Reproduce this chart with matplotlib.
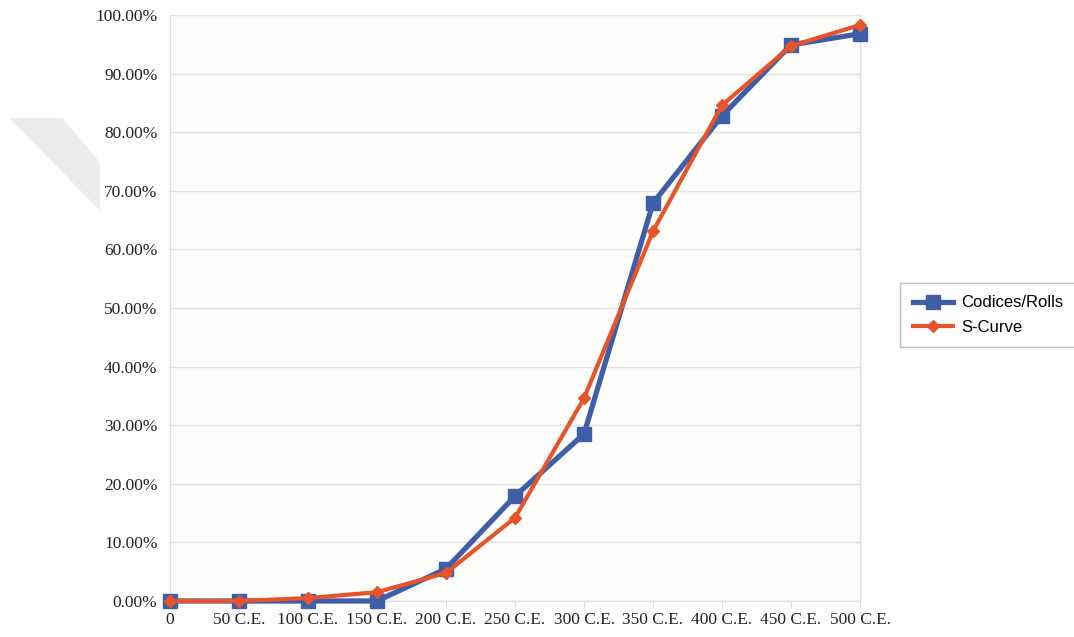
import matplotlib
matplotlib.use("Agg")
import matplotlib.pyplot as plt
from matplotlib.patches import Polygon

categories = ["0", "50 C.E.", "100 C.E.", "150 C.E.", "200 C.E.", "250 C.E.",
              "300 C.E.", "350 C.E.", "400 C.E.", "450 C.E.", "500 C.E."]
years = [0, 50, 100, 150, 200, 250, 300, 350, 400, 450, 500]
codices_rolls = [0.0, 0.0, 0.0, 0.0, 5.5, 17.9, 28.5, 67.9, 82.8, 94.9, 96.8]
s_curve = [0.0, 0.0, 0.5, 1.5, 4.8, 14.2, 34.6, 63.1, 84.6, 94.7, 98.3]
y_ticks = [0, 10, 20, 30, 40, 50, 60, 70, 80, 90, 100]

fig = plt.figure(figsize=(10.74, 6.37), dpi=100)
fig.patch.set_facecolor("white")

# faint page artifact on the left
fig.patches.append(Polygon([[0.008, 0.815], [0.058, 0.815], [0.093, 0.745], [0.093, 0.67]],
                           closed=True, transform=fig.transFigure,
                           facecolor="#ececec", edgecolor="none", zorder=0))

ax = fig.add_axes([170/1074, 36/637, 690/1074, 586/637])
ax.set_facecolor("#fdfdfb")

ax.plot(years, codices_rolls, color="#3f5ea8", lw=3.8, marker="s", ms=10,
        label="Codices/Rolls", zorder=3)
ax.plot(years, s_curve, color="#e8542a", lw=3.0, marker="D", ms=6.5,
        label="S-Curve", zorder=4)

ax.set_xlim(0, 500)
ax.set_ylim(0, 100)
ax.set_xticks(years)
ax.set_xticklabels(categories)
ax.set_yticks(y_ticks)
ax.set_yticklabels([f"{v:.2f}%" for v in y_ticks])

serif = ["Liberation Serif", "DejaVu Serif"]
for lbl in ax.get_xticklabels() + ax.get_yticklabels():
    lbl.set_fontfamily(serif)
    lbl.set_fontsize(12.5)
    lbl.set_color("#222222")

ax.grid(axis="y", color="#e2e2e2", lw=1.0)
ax.set_axisbelow(True)
ax.spines["top"].set_visible(False)
for s in ["left", "right", "bottom"]:
    ax.spines[s].set_color("#dedede")
    ax.spines[s].set_linewidth(1.0)
ax.tick_params(axis="y", length=0, pad=9)
ax.tick_params(axis="x", length=5, color="#dedede", pad=3, direction="out")
for line in ax.lines[:2]:
    line.set_clip_on(False)

leg = fig.legend(loc="center left", bbox_to_anchor=(900/1074, 1 - 315/637),
                 prop={"family": ["Liberation Sans", "DejaVu Sans"], "size": 12},
                 frameon=True, fancybox=False, edgecolor="#b0b0b0",
                 handlelength=2.4, handletextpad=0.5, borderpad=0.75,
                 labelspacing=0.55, borderaxespad=0)
leg.get_frame().set_linewidth(1.0)

fig.savefig("out.png", dpi=100)
